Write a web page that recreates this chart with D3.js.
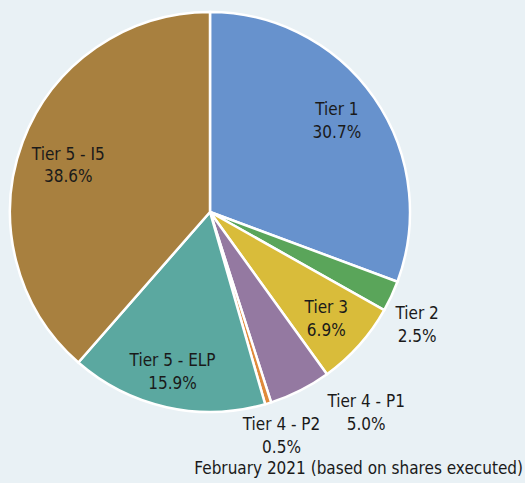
<!DOCTYPE html>
<html>
<head>
<meta charset="utf-8">
<script src="https://cdn.jsdelivr.net/npm/d3@7"></script>
<style>
  body { margin: 0; background: #e9f1f5; }
  svg { display: block; }
  text { font-family: "DejaVu Sans Condensed", "DejaVu Sans", sans-serif; font-size: 17px; fill: #1a1a1a; }
</style>
</head>
<body>
<div id="chart"></div>
<script>
var tiers = ["Tier 1", "Tier 2", "Tier 3", "Tier 4 - P1", "Tier 4 - P2", "Tier 5 - ELP", "Tier 5 - I5"];
var shares = [30.7, 2.5, 6.9, 5.0, 0.5, 15.9, 38.6];
var colors = ["#6792cd", "#5aa55a", "#d9bc3a", "#9479a1", "#e08a3b", "#5ba8a0", "#a8803f"];
var footnote = "February 2021 (based on shares executed)";

var width = 525, height = 483;
var cx = 210, cy = 212, radius = 200;

var svg = d3.select("#chart")
    .append("svg")
        .attr("width", width)
        .attr("height", height);

var g = svg.append("g")
    .attr("transform", "translate(" + cx + "," + cy + ")");

var pie = d3.pie().sort(null).value(function(d) { return d; });
var arcs = pie(shares);

var arc = d3.arc().innerRadius(0).outerRadius(radius);

g.selectAll("path")
    .data(arcs)
    .enter()
    .append("path")
    .attr("d", arc)
    .attr("fill", function(d, i) { return colors[i]; })
    .attr("stroke", "#ffffff")
    .attr("stroke-width", 2.5);

// label distance from centre (as share of radius) and small angle nudges
var labelR = [0.787, 1.174, 0.78, 1.261, 1.165, 0.808, 0.75];
var labelNudge = [-0.026, 0.056, 0, -0.20, -0.017, 0.014, -0.026];

arcs.forEach(function(d, i) {
    var a = (d.startAngle + d.endAngle) / 2 + labelNudge[i];
    var r = radius * labelR[i];
    var x = r * Math.sin(a), y = -r * Math.cos(a);
    var t = g.append("text")
        .attr("text-anchor", "middle")
        .attr("transform", "translate(" + x + "," + y + ")");
    t.append("tspan").attr("x", 0).attr("dy", "-0.2em").text(tiers[i]);
    t.append("tspan").attr("x", 0).attr("dy", "1.35em").text(shares[i].toFixed(1) + "%");
});

svg.append("text")
    .attr("x", width - 2)
    .attr("y", 474)
    .attr("text-anchor", "end")
    .text(footnote);
</script>
</body>
</html>
